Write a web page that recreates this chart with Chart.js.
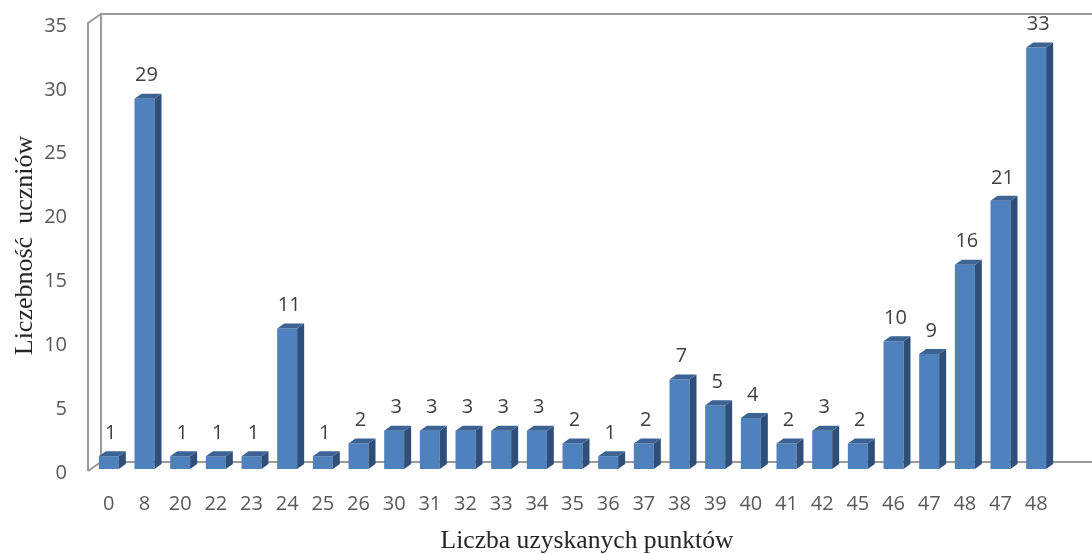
<!DOCTYPE html>
<html lang="pl">
<head>
<meta charset="utf-8">
<title>Liczebność uczniów</title>
<script src="https://cdn.jsdelivr.net/npm/chart.js@4/dist/chart.umd.min.js"></script>
<style>
  html, body { margin: 0; padding: 0; background: #fff; }
  #box { width: 1092px; height: 554px; position: relative; }
</style>
</head>
<body>
<div id="box"><canvas id="chartPunkty"></canvas></div>
<script>
// dane z wykresu
const punkty = ["0", "8", "20", "22", "23", "24", "25", "26", "30", "31", "32", "33", "34", "35",
                "36", "37", "38", "39", "40", "41", "42", "45", "46", "47", "48", "47", "48"];
const liczebnosc = [1, 29, 1, 1, 1, 11, 1, 2, 3, 3, 3, 3, 3, 2, 1, 2, 7, 5, 4, 2, 3, 2, 10, 9, 16, 21, 33];
const osYmin = 0;
const osYmax = 35;
const osYkrok = 5;

const tytulY = "Liczebność  uczniów";
const tytulX = "Liczba uzyskanych punktów";

const kolorPrzod = "#4F81BD";
const kolorBok = "#2F4E78";
const kolorGora = "#3C6394";
const kolorRamka = "#9A9A9A";

// tylna sciana i podloga (efekt 3D)
const ramka3d = {
    id: "ramka3d",
    beforeDatasetsDraw(chart) {
        const { ctx, chartArea } = chart;
        const dx = 13, dy = 9;
        const x0 = chartArea.left - 3;
        const yTop = chartArea.top + 1;
        const yBot = chartArea.bottom + 2;
        ctx.save();
        ctx.strokeStyle = kolorRamka;
        ctx.lineWidth = 2;
        ctx.beginPath();
        ctx.moveTo(x0, yBot);
        ctx.lineTo(x0, yTop);
        ctx.lineTo(x0 + dx, yTop - dy);
        ctx.lineTo(chart.width, yTop - dy);
        ctx.moveTo(x0 + dx, yTop - dy);
        ctx.lineTo(x0 + dx, yBot - dy);
        ctx.moveTo(x0, yBot);
        ctx.lineTo(x0 + dx, yBot - dy);
        ctx.lineTo(chart.width, yBot - dy);
        ctx.stroke();
        ctx.restore();
    }
};

// bok i gora slupka + etykiety wartosci
const slupki3d = {
    id: "slupki3d",
    afterDatasetsDraw(chart) {
        const { ctx } = chart;
        const meta = chart.getDatasetMeta(0);
        const d = 7, h = 5;
        ctx.save();
        meta.data.forEach((bar, i) => {
            const p = bar.getProps(["x", "y", "base", "width"], true);
            const l = p.x - p.width / 2;
            const r = p.x + p.width / 2;
            ctx.fillStyle = kolorBok;
            ctx.beginPath();
            ctx.moveTo(r, p.y);
            ctx.lineTo(r + d, p.y - h);
            ctx.lineTo(r + d, p.base - h);
            ctx.lineTo(r, p.base);
            ctx.closePath();
            ctx.fill();
            ctx.fillStyle = kolorGora;
            ctx.beginPath();
            ctx.moveTo(l, p.y);
            ctx.lineTo(l + d, p.y - h);
            ctx.lineTo(r + d, p.y - h);
            ctx.lineTo(r, p.y);
            ctx.closePath();
            ctx.fill();

            ctx.fillStyle = "#404040";
            ctx.font = "20px 'Open Sans'";
            ctx.textAlign = "center";
            ctx.textBaseline = "middle";
            ctx.fillText(String(liczebnosc[i]), p.x + 2, p.y - 23);
        });
        ctx.restore();
    },
    afterDraw(chart) {
        const { ctx } = chart;
        ctx.save();
        ctx.fillStyle = "#262626";
        ctx.font = "25.6px 'Liberation Serif'";
        ctx.textAlign = "center";
        ctx.textBaseline = "middle";
        ctx.fillText(tytulX, 587, 541);
        ctx.restore();
    }
};

const ctxPunkty = document.getElementById("chartPunkty");
new Chart(ctxPunkty, {
    type: "bar",
    data: {
        labels: punkty,
        datasets: [{
            label: tytulY,
            data: liczebnosc,
            backgroundColor: kolorPrzod,
            borderWidth: 0,
            barPercentage: 0.56,
            categoryPercentage: 1
        }]
    },
    options: {
        responsive: true,
        maintainAspectRatio: false,
        animation: false,
        layout: { padding: { top: 22, right: 38, left: 0, bottom: 0 } },
        plugins: {
            legend: { display: false },
            tooltip: { enabled: false }
        },
        scales: {
            x: {
                grid: { display: false, drawTicks: false },
                border: { display: false },
                ticks: {
                    autoSkip: false,
                    maxRotation: 0,
                    padding: 23,
                    color: "#595959",
                    font: { family: "'Open Sans'", size: 20 }
                },
                afterFit: (scale) => { scale.height = 85; }
            },
            y: {
                min: osYmin,
                max: osYmax,
                grid: { display: false, drawTicks: false },
                border: { display: false },
                ticks: {
                    stepSize: osYkrok,
                    padding: 24,
                    labelOffset: 4,
                    color: "#595959",
                    font: { family: "'Open Sans'", size: 20 }
                },
                title: {
                    display: true,
                    text: tytulY,
                    color: "#262626",
                    padding: { top: 10, bottom: 0 },
                    font: { family: "'Liberation Serif'", size: 26, weight: "normal" }
                },
                afterFit: (scale) => {
                    scale.width = 91;
                    scale.paddingTop = 0;
                    scale.paddingBottom = 0;
                }
            }
        }
    },
    plugins: [ramka3d, slupki3d]
});
</script>
</body>
</html>
